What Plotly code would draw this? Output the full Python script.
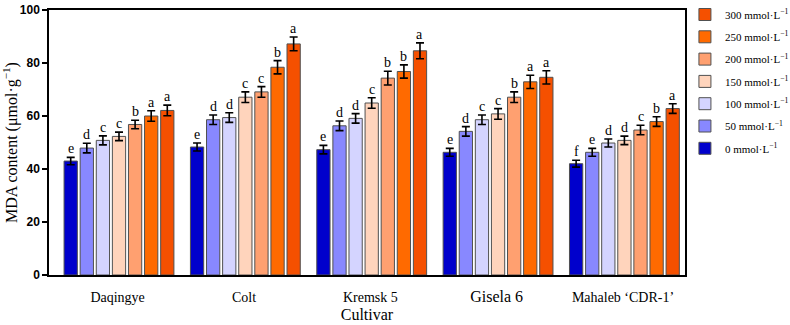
import plotly.graph_objects as go

cultivars = ["Daqingye", "Colt", "Kremsk 5", "Gisela 6", "Mahaleb ‘CDR-1’"]
treatments = ["0 mmol·L<sup>−1</sup>", "50 mmol·L<sup>−1</sup>", "100 mmol·L<sup>−1</sup>",
              "150 mmol·L<sup>−1</sup>", "200 mmol·L<sup>−1</sup>", "250 mmol·L<sup>−1</sup>",
              "300 mmol·L<sup>−1</sup>"]
colors = ["#0000CC", "#8888FF", "#D4D4FF", "#FFD4BC", "#FFA070", "#FF6A00", "#F55000"]

# values[treatment][cultivar]
values = [
    [43.0, 48.3, 47.3, 46.3, 42.0],
    [47.9, 58.6, 56.3, 54.2, 46.3],
    [50.8, 59.4, 59.1, 58.6, 49.8],
    [52.3, 67.1, 64.9, 60.8, 50.8],
    [56.8, 69.1, 74.3, 67.1, 54.7],
    [60.0, 78.4, 76.8, 72.9, 57.9],
    [62.1, 87.2, 84.6, 74.6, 62.8],
]
errors = [
    [1.4, 1.5, 1.6, 1.5, 1.3],
    [1.8, 1.8, 1.8, 1.8, 1.5],
    [1.7, 1.8, 1.8, 1.8, 1.5],
    [1.6, 2.0, 2.0, 2.0, 1.6],
    [1.6, 2.0, 2.6, 2.0, 1.8],
    [2.0, 2.5, 2.5, 2.5, 1.8],
    [2.0, 2.6, 3.0, 2.5, 1.8],
]
letters = [
    ["e", "e", "e", "e", "f"],
    ["d", "d", "d", "d", "e"],
    ["c", "d", "d", "c", "d"],
    ["c", "c", "c", "c", "d"],
    ["b", "c", "b", "b", "c"],
    ["a", "b", "b", "a", "b"],
    ["a", "a", "a", "a", "a"],
]

slot = 0.1274
width = 0.105
n = len(treatments)
xs = list(range(len(cultivars)))

fig = go.Figure()
annotations = []
for i in range(n):
    offset = -n * slot / 2 + i * slot + (slot - width) / 2 + 0.011
    fig.add_trace(go.Bar(
        x=xs, y=values[i], name=treatments[i],
        width=width, offset=offset,
        marker=dict(color=colors[i], line=dict(color="#505050", width=1)),
        error_y=dict(type="data", array=errors[i], color="black", thickness=1.6, width=4),
        legendgroup=str(i), legendrank=n - i,
    ))
    for j in xs:
        annotations.append(dict(
            x=j + offset + width / 2, y=values[i][j] + errors[i][j],
            xref="x", yref="y", text=letters[i][j], showarrow=False,
            yanchor="bottom", yshift=-1,
            font=dict(family="Liberation Serif", size=14, color="#000000"),
        ))

fig.update_layout(
    width=790, height=325,
    margin=dict(l=49, r=105, t=10, b=50),
    plot_bgcolor="white", paper_bgcolor="white",
    showlegend=True,
    legend=dict(traceorder="grouped", xref="container", yref="container",
                x=0.867, y=1.0, xanchor="left", yanchor="top",
                font=dict(family="Liberation Serif", size=11, color="black"),
                tracegroupgap=3.3, itemwidth=30, bgcolor="rgba(0,0,0,0)"),
    annotations=annotations,
    xaxis=dict(
        range=[-0.543, 4.49], tickvals=xs, automargin=False,
        ticktext=["Daqingye", "Colt", "Kremsk 5",
                  "<span style='font-size:16px'>Gisela 6</span>", "Mahaleb ‘CDR-1’"],
        showline=True, linecolor="black", linewidth=1.5, mirror=True,
        ticks="", showgrid=False, zeroline=False, ticklabelstandoff=8,
        tickfont=dict(family="Liberation Serif", size=14, color="black"),
        title=dict(text="Cultivar", font=dict(family="Liberation Serif", size=16, color="black"), standoff=5),
    ),
    yaxis=dict(
        range=[0, 100], tickvals=[0, 20, 40, 60, 80, 100], automargin=False,
        showline=True, linecolor="black", linewidth=1.5, mirror=True,
        ticks="outside", ticklen=5, tickwidth=1.5, tickcolor="black",
        showgrid=False, zeroline=False,
        tickfont=dict(family="Liberation Sans", size=12, color="black", weight="bold"),
        title=dict(text="MDA content (μmol·g<sup>−1</sup>)",
                   font=dict(family="Liberation Serif", size=16, color="black"), standoff=2),
    ),
)

fig.write_html("out.html")
